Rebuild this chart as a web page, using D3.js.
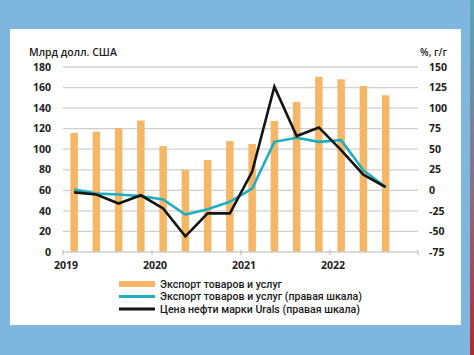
<!DOCTYPE html>
<html><head><meta charset="utf-8">
<script src="https://cdn.jsdelivr.net/npm/d3@7"></script>
<style>html,body{margin:0;padding:0;background:#7fb6de;}svg{display:block;}</style>
</head><body>
<svg id="c" width="474" height="355"></svg>
<script>
const quarters = ["2019Q1","2019Q2","2019Q3","2019Q4","2020Q1","2020Q2","2020Q3","2020Q4","2021Q1","2021Q2","2021Q3","2021Q4","2022Q1","2022Q2","2022Q3","2022Q4"];
const yearTicks = ["2019Q1","2020Q1","2021Q1","2022Q1"];
const yearLabels = ["2019","2020","2021","2022"];
const exportsBn = [116, 117, 120.5, 128, 103, 80, 89.5, 108, 105, 127.5, 146, 170.5, 168, 161.5, 152.5];
const exportsYoY = [1, -4, -5, -7, -11, -29.5, -23, -14, 2, 59, 64, 59, 61, 24.5, 4];
const uralsYoY = [-2.5, -5, -16, -6, -22, -56, -28, -28, 22.5, 126, 66, 76.5, 49, 19, 4];
const leftTicks = [0,20,40,60,80,100,120,140,160,180];
const rightTicks = [-75,-50,-25,0,25,50,75,100,125,150];
const legendLabels = ["Экспорт товаров и услуг","Экспорт товаров и услуг (правая шкала)","Цена нефти марки Urals (правая шкала)"];

const svg = d3.select("#c");
const FONT = "'Open Sans', sans-serif";
const LFONT = "Roboto, sans-serif";
const ORANGE = "#f5b766", TEAL = "#1eaec2", BLACK = "#141414", GRID = "#cfcfcf";

// background panel
const defs = svg.append("defs");
const g1 = defs.append("linearGradient").attr("id","edge").attr("x1",0).attr("y1",0).attr("x2",0).attr("y2",1);
g1.append("stop").attr("offset","0%").attr("stop-color","#5aa6b8");
g1.append("stop").attr("offset","55%").attr("stop-color","#8a6f80");
g1.append("stop").attr("offset","100%").attr("stop-color","#b02a30");
svg.append("rect").attr("x",0).attr("y",0).attr("width",474).attr("height",355).attr("fill","#7fb6de");
svg.append("rect").attr("x",470).attr("y",0).attr("width",4).attr("height",355).attr("fill","url(#edge)");
svg.append("rect").attr("x",10).attr("y",29).attr("width",451).attr("height",296).attr("fill","#ffffff");

const x = d3.scaleBand().domain(quarters).range([63, 419]).paddingInner(0).paddingOuter(0);
const yL = d3.scaleLinear().domain([0,180]).range([252, 67]);
const yR = d3.scaleLinear().domain([-75,150]).range([252, 67]);
const cx = q => x(q) + x.bandwidth()/2;

// gridlines
svg.append("g").selectAll("line").data(leftTicks.filter(d=>d>0)).join("line")
  .attr("x1",63).attr("x2",418).attr("y1",d=>yL(d)).attr("y2",d=>yL(d))
  .attr("stroke",GRID).attr("stroke-width",1.3);

// bars
const bw = 7.5;
svg.append("g").selectAll("rect").data(exportsBn).join("rect")
  .attr("x",(d,i)=>cx(quarters[i]) - bw/2).attr("width",bw)
  .attr("y",d=>yL(d)).attr("height",d=>yL(0)-yL(d)).attr("fill",ORANGE);

// baseline axis
const axisG = svg.append("g").attr("transform",`translate(0,${yL(0)})`);
axisG.append("line").attr("x1",63).attr("x2",418).attr("y1",0).attr("y2",0).attr("stroke",GRID).attr("stroke-width",1.3);
axisG.selectAll("line.t").data(yearTicks).join("line").attr("class","t")
  .attr("x1",d=>x(d)).attr("x2",d=>x(d)).attr("y1",-2).attr("y2",3).attr("stroke","#bdbdbd").attr("stroke-width",1.2);
axisG.append("line").attr("x1",418).attr("x2",418).attr("y1",-2).attr("y2",3).attr("stroke","#bdbdbd").attr("stroke-width",1.2);
axisG.selectAll("text").data(yearTicks).join("text")
  .attr("x",d=>x(d)+3).attr("y",17).attr("text-anchor","middle")
  .attr("font-family",FONT).attr("font-weight",700).attr("font-size",10.5).attr("fill","#222")
  .text((d,i)=>yearLabels[i]);

// lines
const lineT = d3.line().x((d,i)=>cx(quarters[i])).y(d=>yR(d));
svg.append("path").datum(exportsYoY).attr("d",lineT).attr("fill","none")
  .attr("stroke",TEAL).attr("stroke-width",2.6).attr("stroke-linejoin","miter");
svg.append("path").datum(uralsYoY).attr("d",lineT).attr("fill","none")
  .attr("stroke",BLACK).attr("stroke-width",2.6).attr("stroke-linejoin","miter");

// left axis labels
svg.append("g").selectAll("text").data(leftTicks).join("text")
  .attr("x",51).attr("y",d=>yL(d)).attr("dy","0.35em").attr("text-anchor","end")
  .attr("font-family",FONT).attr("font-weight",700).attr("font-size",10.5).attr("fill","#222")
  .text(d=>d);
// right axis labels
svg.append("g").selectAll("text").data(rightTicks).join("text")
  .attr("x",429).attr("y",d=>yR(d)).attr("dy","0.35em").attr("text-anchor","start")
  .attr("font-family",FONT).attr("font-weight",700).attr("font-size",10.5).attr("fill","#222")
  .text(d=>d);

// axis titles
svg.append("text").attr("x",29).attr("y",56).attr("font-family",FONT).attr("font-weight",600)
  .attr("font-size",10.5).attr("fill","#222").text("Млрд долл. США");
svg.append("text").attr("x",447).attr("y",56).attr("text-anchor","end").attr("font-family",FONT).attr("font-weight",600)
  .attr("font-size",10).attr("fill","#222").text("%, г/г");

// legend
const lg = svg.append("g");
const rows = [284, 296.5, 309];
const legendWidths = [122, 202, 200];
lg.append("rect").attr("x",119).attr("y",rows[0]-3).attr("width",36).attr("height",6).attr("fill",ORANGE);
lg.append("line").attr("x1",119).attr("x2",155).attr("y1",rows[1]).attr("y2",rows[1]).attr("stroke",TEAL).attr("stroke-width",2.8);
lg.append("line").attr("x1",119).attr("x2",155).attr("y1",rows[2]).attr("y2",rows[2]).attr("stroke",BLACK).attr("stroke-width",2.8);
lg.selectAll("text").data(legendLabels).join("text")
  .attr("x",160).attr("y",(d,i)=>rows[i]).attr("dy","0.36em")
  .attr("font-family",LFONT).attr("font-weight",500).attr("font-size",10.4).attr("fill","#1a1a1a")
  .attr("textLength",(d,i)=>legendWidths[i]).attr("lengthAdjust","spacingAndGlyphs")
  .text(d=>d);
</script>
</body></html>
